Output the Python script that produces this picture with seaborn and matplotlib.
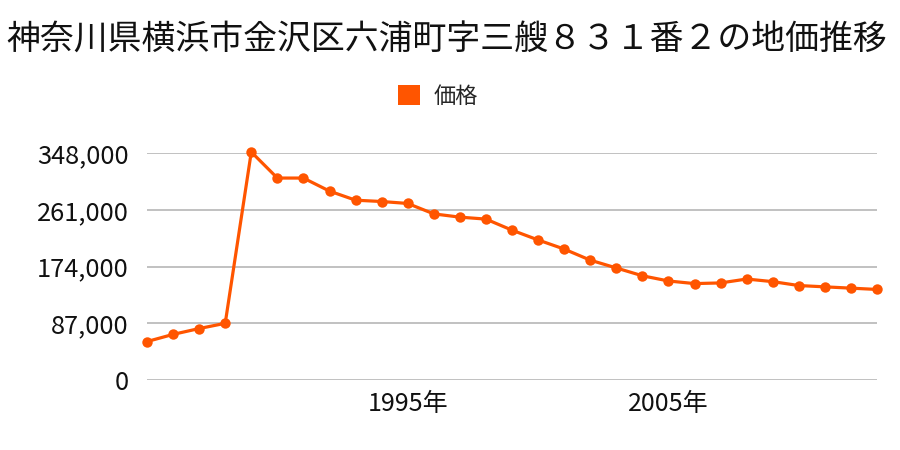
import matplotlib
matplotlib.use("Agg")
import matplotlib.pyplot as plt
from matplotlib.patches import Patch
import seaborn as sns
import pandas as pd

title = "神奈川県横浜市金沢区六浦町字三艘８３１番２の地価推移"
series_name = "価格"
years = list(range(1985, 2014))
prices = [59000, 70000, 79000, 87000, 350000, 310000, 310000, 290000, 276000,
          274000, 271000, 255000, 250000, 247000, 230000, 215000, 201000, 184000,
          172000, 160000, 152000, 148000, 149000, 155000, 151000, 145000, 143000,
          141000, 139000]
yticks = [0, 87000, 174000, 261000, 348000]
xticks = [1995, 2005]
xtick_labels = ["1995年", "2005年"]

color = "#ff5500"
fonts = ["Noto Sans CJK JP", "DejaVu Sans"]

sns.set_theme(style="white")
plt.rcParams["font.family"] = fonts

df = pd.DataFrame({"year": years, "price": prices})

fig = plt.figure(figsize=(9, 4.5), dpi=100)
ax = fig.add_axes([147/900, 1-380/450, (877-147)/900, (380-153.3)/450])

sns.lineplot(data=df, x="year", y="price", ax=ax, color=color, linewidth=2.3,
             marker="o", markersize=7.5, markeredgewidth=0, clip_on=False, zorder=3)

ax.set_xlim(years[0], years[-1])
ax.set_ylim(0, 348000)
ax.set_yticks(yticks)
ax.set_yticklabels([f"{v:,}" for v in yticks], fontsize=18.3, color="#111111")
ax.set_xticks(xticks)
ax.set_xticklabels(xtick_labels, fontsize=18.0, color="#111111")
ax.tick_params(axis="y", length=0, pad=13)
ax.tick_params(axis="x", length=0, pad=8)
ax.set_xlabel("")
ax.set_ylabel("")
ax.yaxis.grid(True, color="#b0b0b0", linewidth=1.1)
ax.xaxis.grid(False)
for s in ax.spines.values():
    s.set_visible(False)
if ax.get_legend():
    ax.get_legend().remove()

fig.text(447/900, 1-40/450, title, ha="center", va="center", fontsize=24.4, color="#111111")

handle = Patch(facecolor=color, edgecolor="none", label=series_name)
fig.legend(handles=[handle], loc="center", bbox_to_anchor=(438/900, 1-96/450),
           frameon=False, fontsize=16, handlelength=1.0, handleheight=1.0,
           handletextpad=0.6)

fig.savefig("out.png", dpi=100)
